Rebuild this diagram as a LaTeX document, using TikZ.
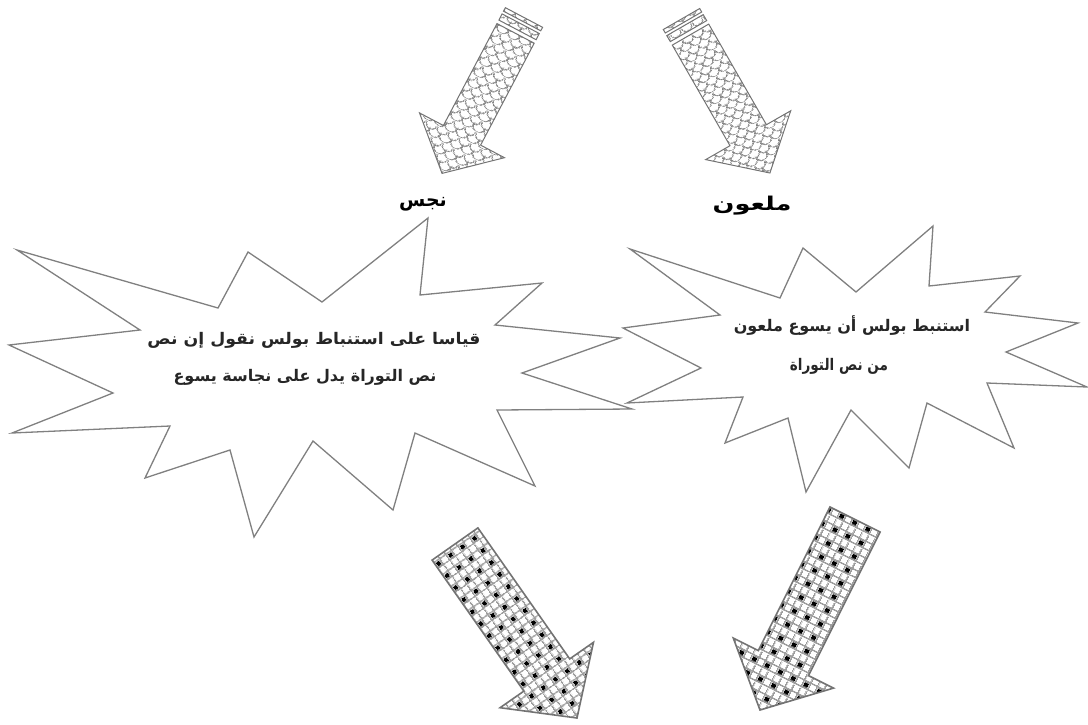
\documentclass[tikz,border=0pt]{standalone}
\usepackage{fontspec}
\usetikzlibrary{patterns.meta}
\newfontfamily\arabicfont[Script=Arabic]{DejaVu Sans}
\TeXXeTstate=1

\pgfdeclarepattern{
  name=scales,
  type=uncolored,
  parameters={\scalesang},
  bottom left={\pgfpoint{0pt}{0pt}},
  top right={\pgfpoint{12pt}{12pt}},
  tile size={\pgfpoint{12pt}{12pt}},
  tile transformation={\pgftransformrotate{\scalesang}},
  code={
    \pgfsetlinewidth{1pt}
    \pgfpathmoveto{\pgfpoint{0pt}{12pt}}
    \pgfpatharc{180}{360}{6pt}
    \pgfpathmoveto{\pgfpoint{-6pt}{6pt}}
    \pgfpatharc{180}{360}{6pt}
    \pgfpatharc{180}{360}{6pt}
    \pgfusepath{stroke}
  }
}

\pgfdeclarepattern{
  name=griddots,
  type=colored,
  parameters={\griddotsang},
  bottom left={\pgfpoint{0pt}{0pt}},
  top right={\pgfpoint{15pt}{15pt}},
  tile size={\pgfpoint{15pt}{15pt}},
  tile transformation={\pgftransformrotate{\griddotsang}},
  code={
    \pgfsetfillcolor{black!38}
    \pgfpathrectangle{\pgfpoint{0pt}{0pt}}{\pgfpoint{15pt}{1.7pt}}
    \pgfpathrectangle{\pgfpoint{0pt}{7.5pt}}{\pgfpoint{15pt}{1.7pt}}
    \pgfpathrectangle{\pgfpoint{0pt}{0pt}}{\pgfpoint{1.7pt}{15pt}}
    \pgfpathrectangle{\pgfpoint{7.5pt}{0pt}}{\pgfpoint{1.7pt}{15pt}}
    \pgfusepath{fill}
    \pgfsetfillcolor{black}
    \pgfpathrectangle{\pgfpoint{2.3pt}{2.3pt}}{\pgfpoint{4.6pt}{4.6pt}}
    \pgfusepath{fill}
  }
}

\tikzset{
  scales angle/.store in=\scalesang, scales angle=0,
  griddots angle/.store in=\griddotsang, griddots angle=0,
  burst/.style={draw=black!50, line width=1.3pt, line join=miter, fill=white},
  toparrow/.style={draw=black!55, line width=1pt, pattern color=black!50, pattern=scales},
  botarrow/.style={draw=black!55, line width=1.6pt, pattern=griddots},
  artext/.style={font=\arabicfont\bfseries\fontsize{16}{18}\selectfont, text=black!85, inner sep=0pt},
  arlabel/.style={font=\arabicfont\bfseries\fontsize{19}{20}\selectfont, inner sep=0pt},
}

\begin{document}
\begin{tikzpicture}[x=1pt, y=-1pt]
\useasboundingbox (0,0) rectangle (1088,724);

% top-left striped arrow
\path[toparrow, scales angle=-27.7] (505.4,7.7) -- (542.6,27.3) -- (540.7,30.8) -- (503.5,11.2) -- cycle;
\path[toparrow, scales angle=-27.7] (502.1,13.9) -- (539.3,33.5) -- (536.1,39.7) -- (498.9,20.1) -- cycle;
\path[toparrow, scales angle=-27.7] (497,23.6) -- (534.2,43.2) -- (480.6,145.1) -- (504.5,157.7)
  -- (442,173.4) -- (419.5,112.9) -- (443.4,125.5) -- cycle;

% top-right striped arrow
\path[toparrow, scales angle=29.9] (663.3,29.5) -- (699.7,8.5) -- (701.7,12.0) -- (665.3,33.0) -- cycle;
\path[toparrow, scales angle=29.9] (666.8,35.6) -- (703.2,14.6) -- (706.7,20.6) -- (670.3,41.6) -- cycle;
\path[toparrow, scales angle=29.9] (672.3,45.1) -- (708.7,24.1) -- (766.4,124.7) -- (790.7,110.8)
  -- (769.9,173) -- (705.7,159.6) -- (730,145.7) -- cycle;

% labels
\node[arlabel] (najis) at (423,204) {\beginR نجس\endR};
\node[arlabel, font=\arabicfont\bfseries\fontsize{19}{20}\selectfont\addfontfeature{FakeStretch=1.35}] (malun) at (752,206) {\beginR ملعون\endR};

% left burst
\path[burst] (17,250) -- (218,308) -- (248,252) -- (322,302) -- (428,218) -- (420,295)
  -- (542,283) -- (495,325) -- (620,338) -- (522,373) -- (632,409) -- (497,410)
  -- (535,486) -- (415,433) -- (393,510) -- (313,441) -- (254,537) -- (230,450)
  -- (145,478) -- (170,426) -- (12,433) -- (113,393) -- (9,345) -- (140,330) -- cycle;

% right burst
\path[burst] (630,249) -- (780,298) -- (803,248) -- (856,292) -- (933,226) -- (929,286)
  -- (1020,276) -- (985,312) -- (1078,323) -- (1006,352) -- (1087,387) -- (987,383)
  -- (1014,448) -- (927,403) -- (909,468) -- (851,410) -- (806,492) -- (788,418)
  -- (725,443) -- (743,397) -- (627,403) -- (701,368) -- (623,328) -- (720,315) -- cycle;

% burst texts
\node[artext, font=\arabicfont\bfseries\fontsize{16}{18}\selectfont\addfontfeature{FakeStretch=1.08}] (l1) at (314,340) {\beginR قياسا على استنباط بولس نقول إن نص\endR};
\node[artext] (l2) at (305,377) {\beginR نص التوراة يدل على نجاسة يسوع\endR};
\node[artext] (r1) at (852,326) {\beginR استنبط بولس أن يسوع ملعون\endR};
\node[artext, font=\arabicfont\bfseries\fontsize{16}{18}\selectfont\addfontfeature{FakeStretch=0.85}] (r2) at (839,366) {\beginR من نص التوراة\endR};

% bottom arrows
\path[botarrow, griddots angle=35] (432.1,560.1) -- (477.9,527.9) -- (569.7,658.9) -- (593.5,642.3)
  -- (577,718) -- (500.1,707.7) -- (523.9,691.1) -- cycle;
\path[botarrow, griddots angle=-26.5] (830,507) -- (880.1,532) -- (808.5,675.6) -- (833.5,688.1)
  -- (760,710) -- (733.3,638.1) -- (758.3,650.6) -- cycle;
\end{tikzpicture}
\end{document}
